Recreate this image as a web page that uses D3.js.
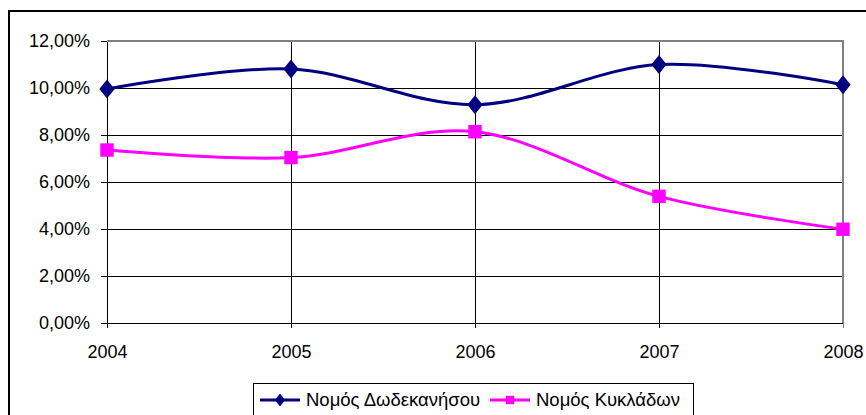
<!DOCTYPE html>
<html>
<head>
<meta charset="utf-8">
<script src="https://cdn.jsdelivr.net/npm/d3@7"></script>
<style>
  body { margin: 0; background: #fff; }
  svg { display: block; font-family: "Liberation Sans", Arial, sans-serif; }
</style>
</head>
<body>
<div id="chart"></div>
<script>
const years = [2004, 2005, 2006, 2007, 2008];
const dodecanese = [0.0996, 0.1081, 0.0929, 0.1100, 0.1014];
const cyclades = [0.0736, 0.0704, 0.0814, 0.0539, 0.0399];
const yTicks = [0, 0.02, 0.04, 0.06, 0.08, 0.10, 0.12];
const seriesNames = ['Νομός Δωδεκανήσου', 'Νομός Κυκλάδων'];

const W = 866, H = 415;
const plot = { left: 107, right: 843, top: 41, bottom: 323 };

const svg = d3.select('#chart').append('svg').attr('width', W).attr('height', H);

// outer chart frame (runs off the picture on right and bottom)
svg.append('rect').attr('x', 9).attr('y', 11).attr('width', 900).attr('height', 450)
  .attr('fill', 'none').attr('stroke', '#000').attr('stroke-width', 2);

const x = d3.scaleLinear().domain([2004, 2008]).range([plot.left, plot.right]);
const y = d3.scaleLinear().domain([0, 0.12]).range([plot.bottom, plot.top]);

const locale = d3.formatLocale({ decimal: ',', thousands: '.', grouping: [3], currency: ['', '€'] });
const pct = locale.format('.2%');

// Grid
const grid = svg.append('g').attr('shape-rendering', 'crispEdges');
grid.selectAll('line.h').data(yTicks.slice(1, -1)).enter().append('line').attr('class', 'h')
  .attr('x1', plot.left).attr('x2', plot.right)
  .attr('y1', d => y(d)).attr('y2', d => y(d))
  .attr('stroke', '#000').attr('stroke-width', 1);
grid.selectAll('line.v').data(years.slice(1, -1)).enter().append('line').attr('class', 'v')
  .attr('x1', d => x(d)).attr('x2', d => x(d))
  .attr('y1', plot.top).attr('y2', plot.bottom)
  .attr('stroke', '#000').attr('stroke-width', 1);

// plot area border (top + right, gray)
svg.append('path').attr('shape-rendering', 'crispEdges')
  .attr('d', `M${plot.left},${y(0.12)}H${x(2008)}V${plot.bottom}`)
  .attr('fill', 'none').attr('stroke', '#808080').attr('stroke-width', 2);

// Axes
const yAxis = svg.append('g').attr('transform', `translate(${plot.left},0)`)
  .call(d3.axisLeft(y).tickValues(yTicks).tickFormat(pct).tickSize(6).tickPadding(11).tickSizeOuter(0));
const xAxis = svg.append('g').attr('transform', `translate(0,${plot.bottom})`)
  .call(d3.axisBottom(x).tickValues(years).tickFormat(d3.format('d')).tickSize(5).tickPadding(17).tickSizeOuter(0));
[yAxis, xAxis].forEach(a => {
  a.selectAll('.domain, .tick line').attr('shape-rendering', 'crispEdges');
  a.selectAll('.domain').attr('stroke', '#000').attr('stroke-width', 1.5);
  a.selectAll('.tick line').attr('stroke', '#000').attr('stroke-width', 1.2);
  a.selectAll('text').style('font-size', '18px').style('fill', '#000')
    .style('font-family', '"Liberation Sans", Arial, sans-serif');
});
xAxis.select('.tick:last-child line').attr('stroke', '#808080');

// Lines
const line = d3.line().x((d, i) => x(years[i])).y(d => y(d)).curve(d3.curveCardinal.tension(0));
const series = [
  { name: seriesNames[0], values: dodecanese, color: '#000080', shape: d3.symbolDiamond, size: 130 },
  { name: seriesNames[1], values: cyclades, color: '#FF00FF', shape: d3.symbolSquare, size: 180 }
];

series.forEach(s => {
  svg.append('path').datum(s.values).attr('fill', 'none')
    .attr('stroke', s.color).attr('stroke-width', 3).attr('d', line);
});
series.forEach(s => {
  svg.append('g').selectAll('path').data(s.values).enter().append('path')
    .attr('transform', (d, i) => `translate(${x(years[i])},${y(d)})` + (s.shape === d3.symbolDiamond ? ' scale(1.25,0.9)' : ''))
    .attr('d', d3.symbol().type(s.shape).size(s.size))
    .attr('fill', s.color);
});

// Legend
const lg = svg.append('g');
lg.append('rect').attr('x', 253.5).attr('y', 383.5).attr('width', 440).attr('height', 50)
  .attr('fill', '#fff').attr('stroke', '#000').attr('stroke-width', 1);
const legendX = [260, 490];
series.forEach((s, i) => {
  const lx = legendX[i], ly = 400;
  lg.append('line').attr('x1', lx).attr('x2', lx + 40).attr('y1', ly).attr('y2', ly)
    .attr('stroke', s.color).attr('stroke-width', 3);
  lg.append('path').attr('transform', `translate(${lx + 20},${ly})` + (s.shape === d3.symbolDiamond ? ' scale(1.25,0.9)' : ''))
    .attr('d', d3.symbol().type(s.shape).size(s.shape === d3.symbolDiamond ? 60 : 70)).attr('fill', s.color);
  lg.append('text').attr('x', lx + 46).attr('y', ly).attr('dy', '0.35em')
    .style('font-size', '18.5px').style('fill', '#000').text(s.name);
});
</script>
</body>
</html>
